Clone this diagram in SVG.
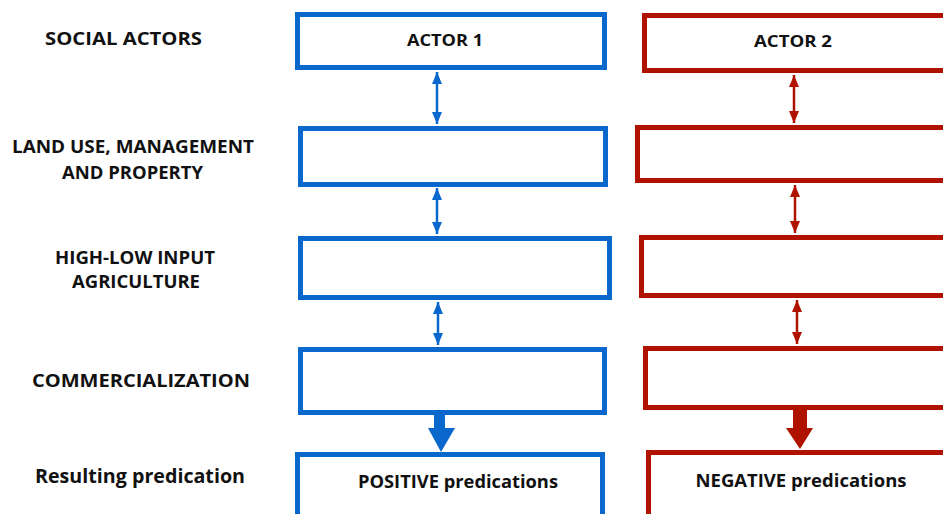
<svg xmlns="http://www.w3.org/2000/svg" width="943" height="514" viewBox="0 0 943 514">
<style>
  .lbl { font-family: "Open Sans", "Liberation Sans", sans-serif; font-weight: bold; fill: #111; }
  .b { fill: #fff; stroke: #0A68CC; stroke-width: 5; }
  .r { fill: #fff; stroke: #B01200; stroke-width: 5; }
  .lb { stroke: #0A68CC; stroke-width: 2.5; fill: none; }
  .lr { stroke: #B01200; stroke-width: 2.5; fill: none; }
</style>
<defs>
  <marker id="ab" markerUnits="userSpaceOnUse" markerWidth="12" markerHeight="10" viewBox="0 0 12 10" refX="12" refY="5" orient="auto-start-reverse">
    <path d="M0,0 L12,5 L0,10 Z" fill="#0A68CC"/>
  </marker>
  <marker id="ar" markerUnits="userSpaceOnUse" markerWidth="12" markerHeight="10" viewBox="0 0 12 10" refX="12" refY="5" orient="auto-start-reverse">
    <path d="M0,0 L12,5 L0,10 Z" fill="#B01200"/>
  </marker>
</defs>
<rect width="943" height="514" fill="#fff"/>

<g id="row-labels">
  <text class="lbl" x="45" y="45" font-size="18" textLength="157" lengthAdjust="spacingAndGlyphs">SOCIAL ACTORS</text>
  <text class="lbl" x="12" y="153" font-size="18" textLength="242" lengthAdjust="spacingAndGlyphs">LAND USE, MANAGEMENT</text>
  <text class="lbl" x="62" y="179" font-size="18" textLength="141" lengthAdjust="spacingAndGlyphs">AND PROPERTY</text>
  <text class="lbl" x="55" y="264" font-size="18" textLength="160" lengthAdjust="spacingAndGlyphs">HIGH-LOW INPUT</text>
  <text class="lbl" x="72" y="288" font-size="18" textLength="128" lengthAdjust="spacingAndGlyphs">AGRICULTURE</text>
  <text class="lbl" x="32" y="387" font-size="18" textLength="218" lengthAdjust="spacingAndGlyphs">COMMERCIALIZATION</text>
  <text class="lbl" x="35" y="483" font-size="19" textLength="210" lengthAdjust="spacingAndGlyphs">Resulting predication</text>
</g>

<g id="connectors">
  <line class="lb" x1="437" y1="72" x2="437" y2="124" marker-start="url(#ab)" marker-end="url(#ab)"/>
  <line class="lb" x1="437" y1="188" x2="437" y2="234" marker-start="url(#ab)" marker-end="url(#ab)"/>
  <line class="lb" x1="438" y1="302" x2="438" y2="345" marker-start="url(#ab)" marker-end="url(#ab)"/>
  <line class="lr" x1="794" y1="75" x2="794" y2="123" marker-start="url(#ar)" marker-end="url(#ar)"/>
  <line class="lr" x1="795" y1="185" x2="795" y2="233" marker-start="url(#ar)" marker-end="url(#ar)"/>
  <line class="lr" x1="797" y1="300" x2="797" y2="344" marker-start="url(#ar)" marker-end="url(#ar)"/>
  <path d="M434,415 L445,415 L445,428 L455,428 L441,452 L428,428 L434,428 Z" fill="#0A68CC"/>
  <path d="M793,410 L807,410 L807,428 L813,428 L800,449 L786,428 L793,428 Z" fill="#B01200"/>
</g>

<g id="actor1">
  <rect class="b" x="297.5" y="14.5" width="307" height="53"/>
  <text class="lbl" x="445" y="46" font-size="16" text-anchor="middle" textLength="76" lengthAdjust="spacingAndGlyphs">ACTOR 1</text>
</g>
<g id="actor1-land">
  <rect class="b" x="300.5" y="128.5" width="305" height="56"/>
</g>
<g id="actor1-agri">
  <rect class="b" x="300.5" y="238.5" width="309" height="59"/>
</g>
<g id="actor1-comm">
  <rect class="b" x="300.5" y="349.5" width="304" height="63"/>
</g>
<g id="actor1-result">
  <rect class="b" x="297.5" y="454.5" width="305" height="70"/>
  <text class="lbl" x="458" y="488" font-size="17" text-anchor="middle" textLength="200" lengthAdjust="spacingAndGlyphs">POSITIVE predications</text>
</g>

<g id="actor2">
  <rect class="r" x="644.5" y="15.5" width="310" height="55"/>
  <text class="lbl" x="793" y="47" font-size="16" text-anchor="middle" textLength="78" lengthAdjust="spacingAndGlyphs">ACTOR 2</text>
</g>
<g id="actor2-land">
  <rect class="r" x="637.5" y="127.5" width="320" height="53"/>
</g>
<g id="actor2-agri">
  <rect class="r" x="641.5" y="237.5" width="320" height="58"/>
</g>
<g id="actor2-comm">
  <rect class="r" x="645.5" y="348.5" width="320" height="59"/>
</g>
<g id="actor2-result">
  <rect class="r" x="648.5" y="452.5" width="320" height="70"/>
  <text class="lbl" x="801" y="487" font-size="17" text-anchor="middle" textLength="211" lengthAdjust="spacingAndGlyphs">NEGATIVE predications</text>
</g>
</svg>
